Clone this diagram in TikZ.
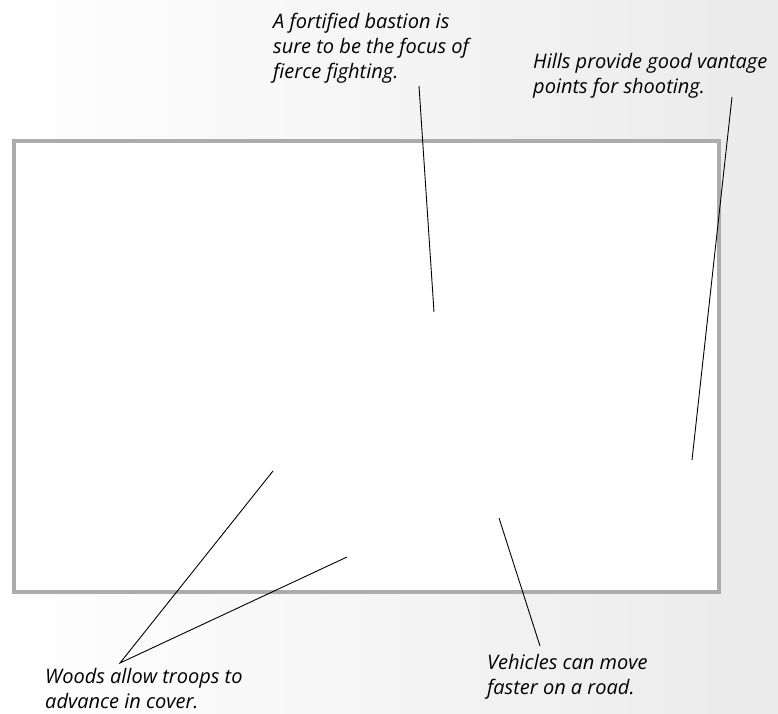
\documentclass[tikz,border=0pt]{standalone}
\usepackage{fontspec}
\setmainfont{Open Sans}
\usepackage{tikz}
\usetikzlibrary{positioning}

\begin{document}
\begin{tikzpicture}[x=1pt, y=-1pt,
  callout/.style={font=\fontsize{20}{25}\selectfont\itshape, align=left,
                  inner sep=0pt, anchor=base west},
  leader/.style={black, line width=0.9pt},
  mapframe/.style={draw=gray!65, line width=4pt, fill=white,
                   minimum width=705pt, minimum height=451pt},
]
\useasboundingbox (0,0) rectangle (778,713);
% Backdrop
\shade[left color=white, right color=gray!16] (0,0) rectangle (778,713);

% Battlefield map
\node[mapframe, anchor=north west] (map) at (12,139) {};

% Callouts (anchored at the last line)
\node[callout] (bastionlbl) at (273,78)
  {A fortified bastion is\\sure to be the focus of\\fierce fighting.};
\node[callout] (hillslbl) at (533,93)
  {Hills provide good vantage\\points for shooting.};
\node[callout] (woodslbl) at (45,708)
  {Woods allow troops to\\advance in cover.};
\node[callout] (roadlbl) at (487,694)
  {Vehicles can move\\faster on a road.};

% Leader ends
\coordinate (bastionpt) at (419,86);
\coordinate (bastion) at (434,312);
\coordinate (hillspt) at (732,97);
\coordinate (hills) at (692,460);
\coordinate (woodspt) at (120,663);
\coordinate (woods1) at (273,471);
\coordinate (woods2) at (347,557);
\coordinate (roadpt) at (540,646);
\coordinate (road) at (499,518);

% Leaders
\draw[leader] (bastionpt) -- (bastion);
\draw[leader] (hillspt) -- (hills);
\draw[leader] (woods1) -- (woodspt) -- (woods2);
\draw[leader] (roadpt) -- (road);
\end{tikzpicture}
\end{document}
